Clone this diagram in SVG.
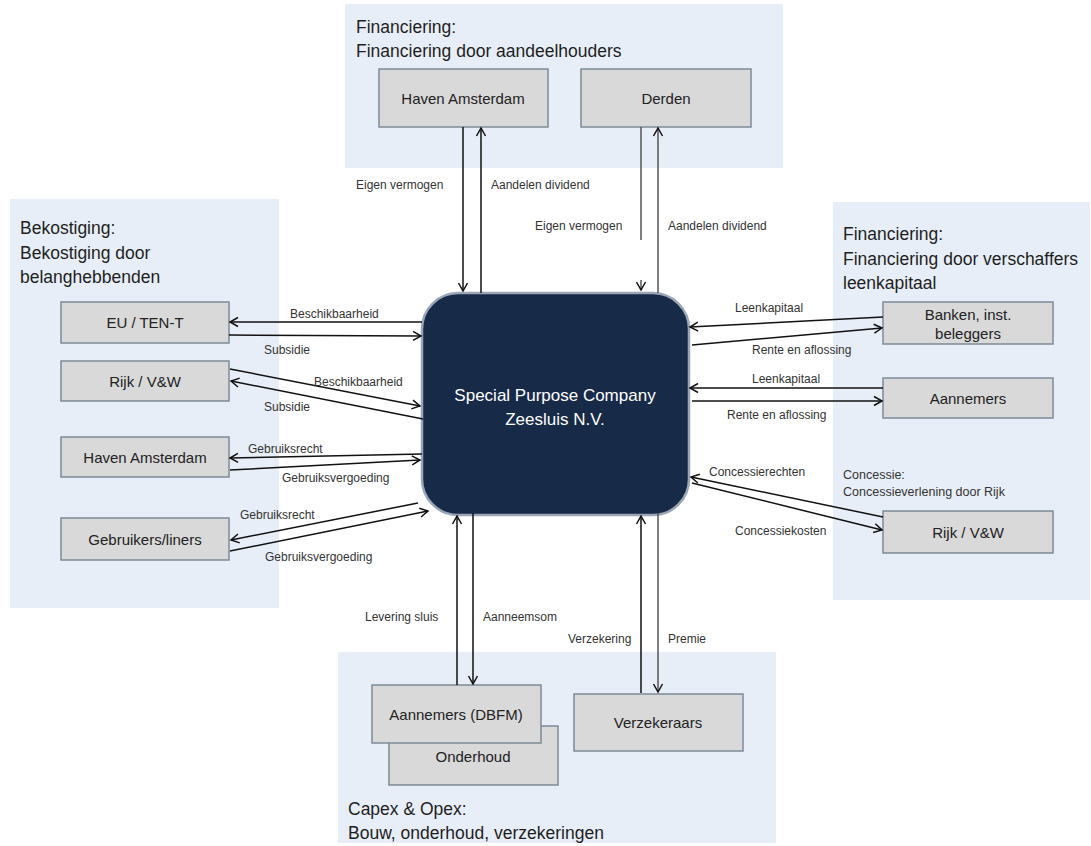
<svg xmlns="http://www.w3.org/2000/svg" width="1091" height="846" viewBox="0 0 1091 846">
<defs>
<marker id="ah" markerUnits="userSpaceOnUse" markerWidth="12" markerHeight="12" viewBox="0 0 12 12" refX="10" refY="6" orient="auto">
<path d="M2,1.5 L10,6 L2,10.5" fill="none" stroke="#111" stroke-width="1.5"/>
</marker>
</defs>
<style>
.panel{fill:#e8eef7}
.box{fill:#d9d9d9;stroke:#7d8a99;stroke-width:1.5}
.title{font-family:"Liberation Sans",Arial,sans-serif;font-size:17.5px;fill:#1e1e1e}
.small{font-family:"Liberation Sans",Arial,sans-serif;font-size:12.5px;fill:#333}
.blab{font-family:"Liberation Sans",Arial,sans-serif;font-size:15px;fill:#222;text-anchor:middle}
.clab{font-family:"Liberation Sans",Arial,sans-serif;font-size:12px;fill:#333}
.con{fill:none;stroke:#111;stroke-width:1.5;marker-end:url(#ah)}
.conl{fill:none;stroke:#555;stroke-width:1.5;marker-end:url(#ah)}
</style>
<rect width="1091" height="846" fill="#ffffff"/>

<g id="panel-top">
<rect class="panel" x="345" y="4" width="438" height="164"/>
<text class="title" x="356" y="33">Financiering:</text>
<text class="title" x="356" y="57">Financiering door aandeelhouders</text>
</g>
<g id="panel-left">
<rect class="panel" x="10" y="199" width="269" height="409"/>
<text class="title" x="20" y="234">Bekostiging:</text>
<text class="title" x="20" y="259">Bekostiging door</text>
<text class="title" x="20" y="283">belanghebbenden</text>
</g>
<g id="panel-right">
<rect class="panel" x="833" y="202" width="257" height="398"/>
<text class="title" x="843" y="240">Financiering:</text>
<text class="title" x="843" y="265">Financiering door verschaffers</text>
<text class="title" x="843" y="289">leenkapitaal</text>
<text class="small" x="843" y="479">Concessie:</text>
<text class="small" x="843" y="496">Concessieverlening door Rijk</text>
</g>
<g id="panel-bottom">
<rect class="panel" x="338" y="652" width="438" height="191"/>
<text class="title" x="348" y="815">Capex &amp; Opex:</text>
<text class="title" x="348" y="839">Bouw, onderhoud,  verzekeringen</text>
</g>

<g id="node-haven-top"><rect class="box" x="379" y="69" width="169" height="58"/><text class="blab" x="463" y="104">Haven Amsterdam</text></g>
<g id="node-derden"><rect class="box" x="581" y="69" width="170" height="58"/><text class="blab" x="666" y="104">Derden</text></g>

<g id="node-eu"><rect class="box" x="61" y="302" width="168" height="41"/><text class="blab" x="145" y="328">EU / TEN-T</text></g>
<g id="node-rijk-left"><rect class="box" x="61" y="361" width="168" height="40"/><text class="blab" x="145" y="387">Rijk / V&amp;W</text></g>
<g id="node-haven-left"><rect class="box" x="61" y="437" width="168" height="40"/><text class="blab" x="145" y="463">Haven Amsterdam</text></g>
<g id="node-gebruikers"><rect class="box" x="61" y="518" width="168" height="42"/><text class="blab" x="145" y="545">Gebruikers/liners</text></g>

<g id="node-banken"><rect class="box" x="883" y="302" width="170" height="42"/><text class="blab" x="968" y="320">Banken, inst.</text><text class="blab" x="968" y="339">beleggers</text></g>
<g id="node-aannemers-right"><rect class="box" x="883" y="378" width="170" height="40"/><text class="blab" x="968" y="404">Aannemers</text></g>
<g id="node-rijk-right"><rect class="box" x="883" y="511" width="170" height="42"/><text class="blab" x="968" y="538">Rijk / V&amp;W</text></g>

<g id="node-onderhoud"><rect class="box" x="389" y="726" width="169" height="59"/><text class="blab" x="473" y="762">Onderhoud</text></g>
<g id="node-aannemers-dbfm"><rect class="box" x="372" y="685" width="169" height="58"/><text class="blab" x="456" y="720">Aannemers (DBFM)</text></g>
<g id="node-verzekeraars"><rect class="box" x="574" y="694" width="169" height="57"/><text class="blab" x="658" y="728">Verzekeraars</text></g>

<g id="node-spc">
<rect x="422" y="293" width="267" height="222" rx="36" ry="36" fill="#172a48" stroke="#9aa6b5" stroke-width="2.5"/>
<text x="555" y="401" font-family="'Liberation Sans',Arial,sans-serif" font-size="17" fill="#ffffff" text-anchor="middle">Special Purpose Company</text>
<text x="555" y="425" font-family="'Liberation Sans',Arial,sans-serif" font-size="17" fill="#ffffff" text-anchor="middle">Zeesluis N.V.</text>
</g>

<g id="connectors">
<path class="con" d="M463,127 V291"/>
<path class="con" d="M481,293 V128"/>
<path class="conl" d="M641,127 V240 M641,280 V290"/>
<path class="conl" d="M658,293 V128"/>

<path class="con" d="M422,322 L230,322"/>
<path class="con" d="M229,335 L421,336"/>
<path class="con" d="M230,369 L420,406"/>
<path class="con" d="M423,419 L231,381"/>
<path class="con" d="M422,454 L230,458"/>
<path class="con" d="M230,470 L420,460"/>
<path class="con" d="M418,503 L231,540"/>
<path class="con" d="M230,551 L428,511"/>

<path class="con" d="M883,317 L690,327"/>
<path class="con" d="M692,345 L882,328"/>
<path class="con" d="M883,388 L690,388"/>
<path class="con" d="M692,401 L882,401"/>
<path class="con" d="M883,517 L691,477"/>
<path class="con" d="M692,483 L882,530"/>

<path class="con" d="M457,685 V516"/>
<path class="con" d="M473,513 V684"/>
<path class="con" d="M641,693 V516"/>
<path class="conl" d="M658,513 V692"/>

<text class="clab" x="356" y="189">Eigen vermogen</text>
<text class="clab" x="491" y="189">Aandelen dividend</text>
<text class="clab" x="535" y="230">Eigen vermogen</text>
<text class="clab" x="668" y="230">Aandelen dividend</text>

<text class="clab" x="290" y="318">Beschikbaarheid</text>
<text class="clab" x="264" y="354">Subsidie</text>
<text class="clab" x="314" y="386">Beschikbaarheid</text>
<text class="clab" x="264" y="411">Subsidie</text>
<text class="clab" x="248" y="453">Gebruiksrecht</text>
<text class="clab" x="282" y="482">Gebruiksvergoeding</text>
<text class="clab" x="240" y="519">Gebruiksrecht</text>
<text class="clab" x="265" y="561">Gebruiksvergoeding</text>

<text class="clab" x="735" y="312">Leenkapitaal</text>
<text class="clab" x="752" y="354">Rente en aflossing</text>
<text class="clab" x="752" y="383">Leenkapitaal</text>
<text class="clab" x="727" y="419">Rente en aflossing</text>
<text class="clab" x="709" y="476">Concessierechten</text>
<text class="clab" x="735" y="535">Concessiekosten</text>

<text class="clab" x="365" y="621">Levering sluis</text>
<text class="clab" x="483" y="621">Aanneemsom</text>
<text class="clab" x="568" y="643">Verzekering</text>
<text class="clab" x="668" y="643">Premie</text>
</g>
</svg>
